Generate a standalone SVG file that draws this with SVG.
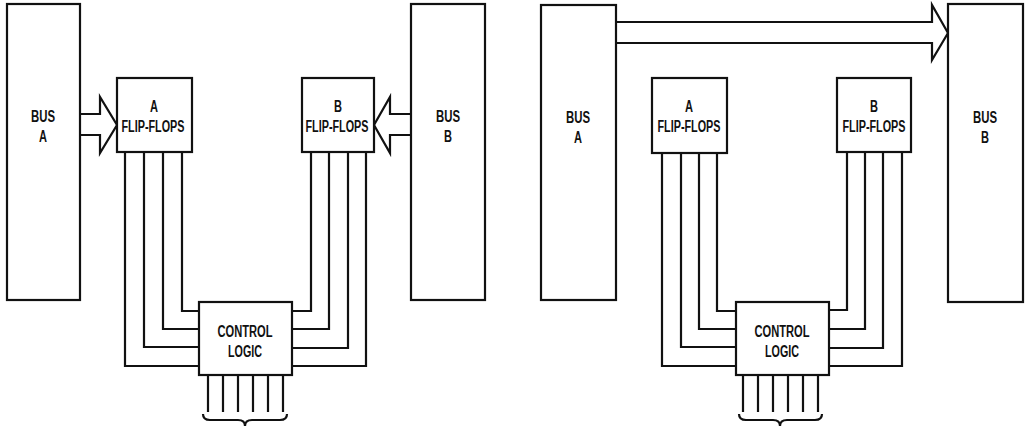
<svg xmlns="http://www.w3.org/2000/svg" width="1026" height="427" viewBox="0 0 1026 427">
<style>
.box{fill:#fff;stroke:#111;stroke-width:2.2}
.wire{fill:none;stroke:#111;stroke-width:2.2;stroke-linejoin:miter}
.arrow{fill:#fff;stroke:#111;stroke-width:2.2;stroke-linejoin:miter}
.t{font-family:"Liberation Sans",Arial,sans-serif;font-weight:bold;font-size:16px;fill:#111;text-anchor:middle}
</style>
<rect width="1026" height="427" fill="#fff"/>

<g id="connectors">
  <!-- left panel -->
  <path class="arrow" d="M80,114 L100,114 L100,97 L117,125 L100,153 L100,135 L80,135"/>
  <path class="arrow" d="M411,114 L390,114 L390,97 L374,125 L390,153 L390,135 L411,135"/>
  <path class="wire" d="M125,152 V366 H199 M144,152 V347 H199 M163,152 V329 H199 M182,152 V311 H199"/>
  <path class="wire" d="M311,152 V311 H292 M329,152 V329 H292 M348,152 V348 H292 M366,152 V366 H292"/>
  <path class="wire" d="M208,375 V412 M223,375 V412 M238,375 V412 M253,375 V412 M268,375 V412 M283,375 V412"/>
  <path class="wire" d="M203,414 Q203,420 210,420 L238,420 Q245,420 245,426 Q245,420 252,420 L280,420 Q287,420 287,414"/>
  <!-- right panel -->
  <path class="arrow" d="M616,22 L932,22 L932,5 L948,33 L932,60 L932,43 L616,43"/>
  <path class="wire" d="M662,153 V366 H736 M681,153 V347 H736 M699,153 V329 H736 M717,153 V311 H736"/>
  <path class="wire" d="M847,152 V310 H829 M865,152 V329 H829 M883,152 V348 H829 M902,152 V366 H829"/>
  <path class="wire" d="M743,375 V412 M758,375 V412 M773,375 V412 M788,375 V412 M803,375 V412 M818,375 V412"/>
  <path class="wire" d="M739,414 Q739,420 746,420 L773,420 Q780,420 780,426 Q780,420 787,420 L815,420 Q822,420 822,414"/>
</g>

<g id="left-bus-a">
  <rect class="box" x="7" y="4" width="73" height="296"/>
  <text class="t" x="43" y="122" textLength="24" lengthAdjust="spacingAndGlyphs">BUS</text>
  <text class="t" x="43" y="142" textLength="8" lengthAdjust="spacingAndGlyphs">A</text>
</g>
<g id="left-a-flipflops">
  <rect class="box" x="117" y="78" width="75" height="74"/>
  <text class="t" x="154" y="112" textLength="8" lengthAdjust="spacingAndGlyphs">A</text>
  <text class="t" x="153" y="132" textLength="63" lengthAdjust="spacingAndGlyphs">FLIP-FLOPS</text>
</g>
<g id="left-b-flipflops">
  <rect class="box" x="302" y="78" width="72" height="74"/>
  <text class="t" x="338" y="112" textLength="8" lengthAdjust="spacingAndGlyphs">B</text>
  <text class="t" x="337" y="132" textLength="63" lengthAdjust="spacingAndGlyphs">FLIP-FLOPS</text>
</g>
<g id="left-bus-b">
  <rect class="box" x="411" y="4" width="74" height="296"/>
  <text class="t" x="448" y="122" textLength="24" lengthAdjust="spacingAndGlyphs">BUS</text>
  <text class="t" x="448" y="142" textLength="8" lengthAdjust="spacingAndGlyphs">B</text>
</g>
<g id="left-control-logic">
  <rect class="box" x="199" y="302" width="93" height="73"/>
  <text class="t" x="245" y="337" textLength="55" lengthAdjust="spacingAndGlyphs">CONTROL</text>
  <text class="t" x="245" y="357" textLength="34" lengthAdjust="spacingAndGlyphs">LOGIC</text>
</g>

<g id="right-bus-a">
  <rect class="box" x="541" y="5" width="75" height="295"/>
  <text class="t" x="578" y="123" textLength="24" lengthAdjust="spacingAndGlyphs">BUS</text>
  <text class="t" x="578" y="143" textLength="8" lengthAdjust="spacingAndGlyphs">A</text>
</g>
<g id="right-a-flipflops">
  <rect class="box" x="652" y="78" width="75" height="75"/>
  <text class="t" x="689" y="112" textLength="8" lengthAdjust="spacingAndGlyphs">A</text>
  <text class="t" x="689" y="132" textLength="63" lengthAdjust="spacingAndGlyphs">FLIP-FLOPS</text>
</g>
<g id="right-b-flipflops">
  <rect class="box" x="837" y="78" width="74" height="74"/>
  <text class="t" x="874" y="112" textLength="8" lengthAdjust="spacingAndGlyphs">B</text>
  <text class="t" x="874" y="132" textLength="63" lengthAdjust="spacingAndGlyphs">FLIP-FLOPS</text>
</g>
<g id="right-bus-b">
  <rect class="box" x="948" y="4" width="75" height="298"/>
  <text class="t" x="985" y="123" textLength="24" lengthAdjust="spacingAndGlyphs">BUS</text>
  <text class="t" x="985" y="143" textLength="8" lengthAdjust="spacingAndGlyphs">B</text>
</g>
<g id="right-control-logic">
  <rect class="box" x="736" y="302" width="93" height="73"/>
  <text class="t" x="782" y="337" textLength="55" lengthAdjust="spacingAndGlyphs">CONTROL</text>
  <text class="t" x="782" y="357" textLength="34" lengthAdjust="spacingAndGlyphs">LOGIC</text>
</g>
</svg>
